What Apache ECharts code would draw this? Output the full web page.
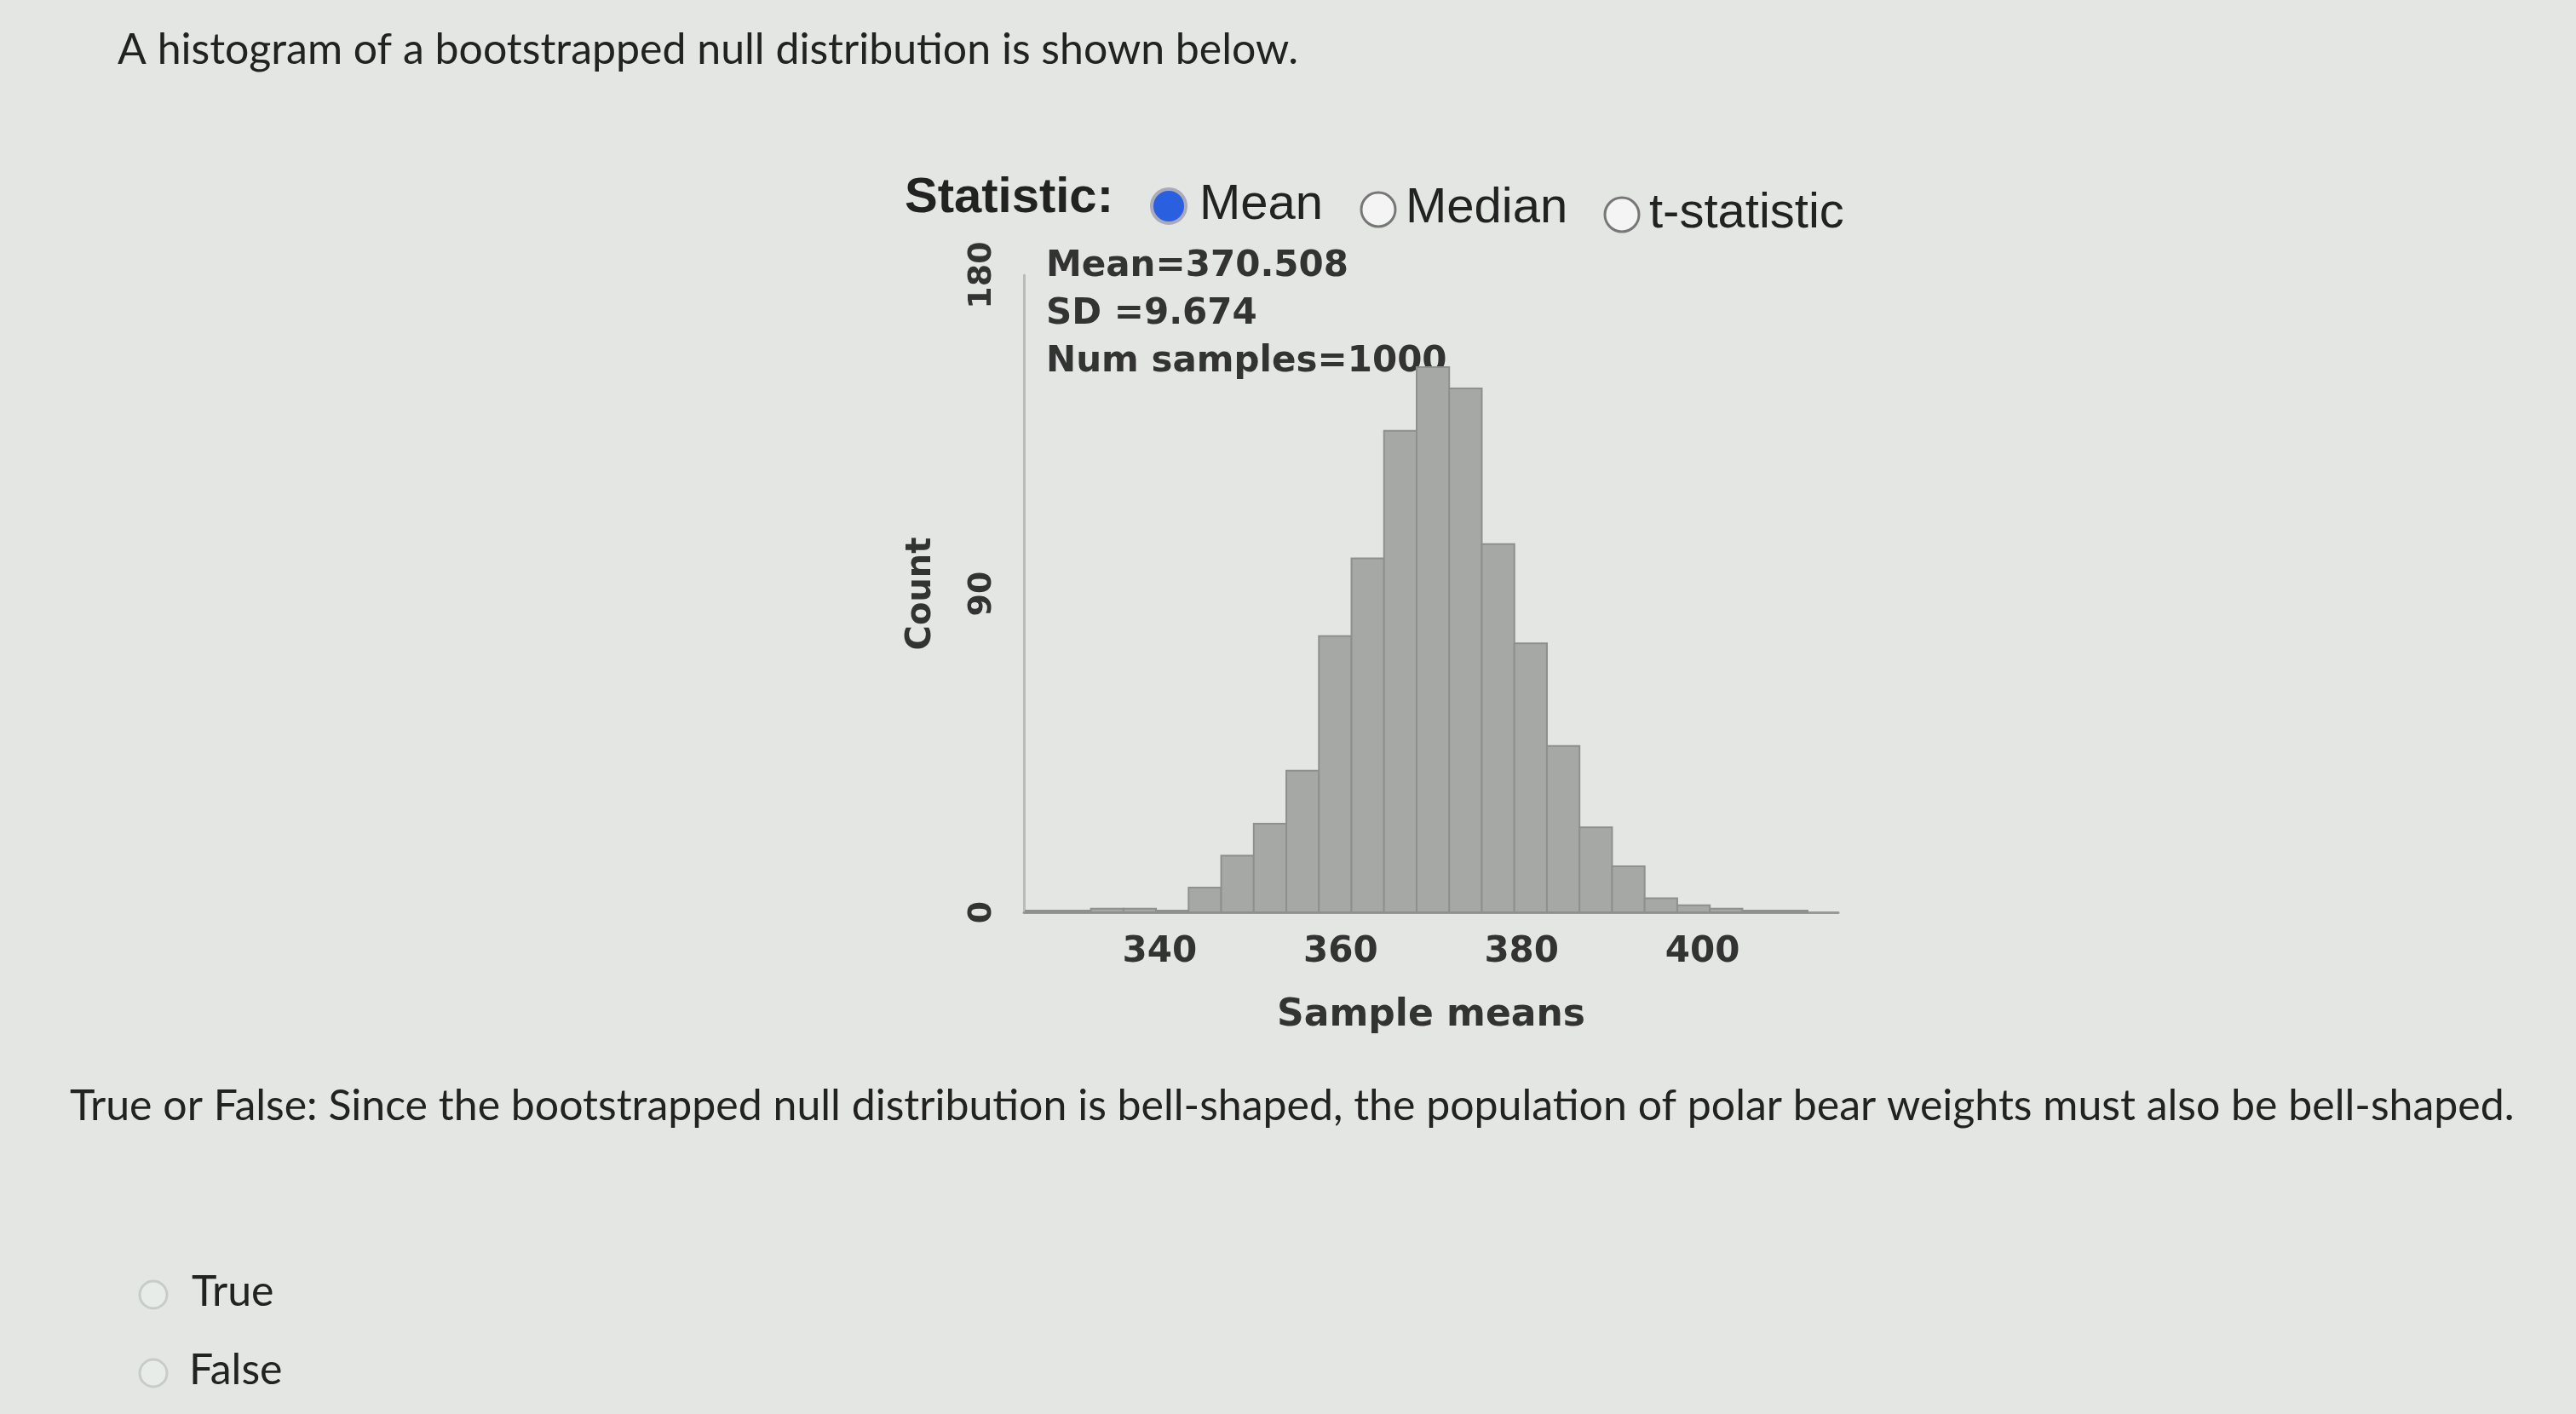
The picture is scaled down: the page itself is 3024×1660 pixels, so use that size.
<!DOCTYPE html>
<html>
<head>
<meta charset="utf-8">
<script src="https://cdn.jsdelivr.net/npm/echarts@6/dist/echarts.min.js"></script>
<style>
  html, body { margin: 0; padding: 0; background: #e4e6e3; }
  #chart { width: 3024px; height: 1660px; }
</style>
</head>
<body>
<div id="chart"></div>
<script>
'use strict';

// histogram bins (left edge, count), width of each bin
const binWidth = 3.6;
const binStarts = [325.2, 328.8, 332.4, 336.0, 339.6, 343.2, 346.8, 350.4, 354.0, 357.6, 361.2, 364.8,
    368.4, 372.0, 375.6, 379.2, 382.8, 386.4, 390.0, 393.6, 397.2, 400.8, 404.4, 408.0];
const counts = [0.5, 0.5, 1, 1, 0.5, 7, 16, 25, 40, 78, 100, 136, 154, 148, 104, 76, 47, 24, 13, 4, 2, 1, 0.5, 0.5];
const xTicks = [340, 360, 380, 400];
const yTicks = [0, 90, 180];

(function () {
    const chart = echarts.init(document.getElementById('chart'));
    const font = 'DejaVu Sans';
    const textFont = 'Lato';

    const options = {
        backgroundColor: '#e4e6e3',
        animation: false,
        grid: { left: 1202, top: 323, width: 956, height: 748 },
        xAxis: {
            type: 'value',
            min: 325,
            max: 415,
            interval: 20,
            name: 'Sample means',
            nameLocation: 'center',
            nameGap: 100,
            nameTextStyle: { fontFamily: font, fontSize: 44, fontWeight: 'bold', color: '#333' },
            axisLine: { lineStyle: { color: '#999', width: 3 } },
            axisTick: { show: false },
            splitLine: { show: false },
            axisLabel: {
                fontFamily: font, fontSize: 42, fontWeight: 'bold', color: '#333', margin: 26,
                customValues: xTicks
            }
        },
        yAxis: {
            type: 'value',
            min: 0,
            max: 180,
            interval: 90,
            name: 'Count',
            nameLocation: 'center',
            nameGap: 100,
            nameRotate: 90,
            nameTextStyle: { fontFamily: font, fontSize: 40, fontWeight: 'bold', color: '#333' },
            axisLine: { show: true, lineStyle: { color: '#bbb', width: 3 } },
            axisTick: { show: false },
            splitLine: { show: false },
            axisLabel: {
                fontFamily: font, fontSize: 38, fontWeight: 'bold', color: '#333', rotate: 90, margin: 30,
                customValues: yTicks
            }
        },
        series: [{
            type: 'custom',
            data: binStarts.map((s, i) => [s, counts[i]]),
            renderItem: function (params, api) {
                const p0 = api.coord([api.value(0), 0]);
                const p1 = api.coord([api.value(0) + binWidth, api.value(1)]);
                return {
                    type: 'rect',
                    shape: { x: p0[0], y: p1[1], width: p1[0] - p0[0], height: p0[1] - p1[1] },
                    style: { fill: '#a6a8a6', stroke: '#8e908e', lineWidth: 2 }
                };
            }
        }],
        graphic: [
            { type: 'text', left: 138, top: 34, style: { text: 'A histogram of a bootstrapped null distribution is shown below.', font: '50px ' + textFont, fill: '#222' } },
            { type: 'text', left: 1062, top: 204, style: { text: 'Statistic:', font: 'bold 58px Liberation Sans', fill: '#222' } },
            { type: 'circle', shape: { cx: 1372, cy: 242, r: 20 }, style: { fill: '#2a5fe0', stroke: '#aab', lineWidth: 4 } },
            { type: 'text', left: 1408, top: 212, style: { text: 'Mean', font: '58px Liberation Sans', fill: '#222' } },
            { type: 'circle', shape: { cx: 1618, cy: 246, r: 20 }, style: { fill: '#f4f4f4', stroke: '#777', lineWidth: 3 } },
            { type: 'text', left: 1650, top: 216, style: { text: 'Median', font: '58px Liberation Sans', fill: '#222' } },
            { type: 'circle', shape: { cx: 1904, cy: 252, r: 20 }, style: { fill: '#f4f4f4', stroke: '#777', lineWidth: 3 } },
            { type: 'text', left: 1936, top: 222, style: { text: 't-statistic', font: '58px Liberation Sans', fill: '#222' } },
            { type: 'text', left: 1228, top: 285, style: { text: 'Mean=370.508\nSD =9.674\nNum samples=1000', font: 'bold 42px DejaVu Sans', fill: '#333', lineHeight: 56 } },
            { type: 'text', left: 82, top: 1274, style: { text: 'True or False: Since the bootstrapped null distribution is bell-shaped, the population of polar bear weights must also be bell-shaped.', font: '50px ' + textFont, fill: '#222' } },
            { type: 'circle', shape: { cx: 180, cy: 1520, r: 16 }, style: { fill: '#e8ece8', stroke: '#c8ccc8', lineWidth: 3 } },
            { type: 'text', left: 225, top: 1492, style: { text: 'True', font: '50px ' + textFont, fill: '#222' } },
            { type: 'circle', shape: { cx: 180, cy: 1612, r: 16 }, style: { fill: '#e8ece8', stroke: '#c8ccc8', lineWidth: 3 } },
            { type: 'text', left: 222, top: 1584, style: { text: 'False', font: '50px ' + textFont, fill: '#222' } }
        ]
    };

    chart.setOption(options);
})();
</script>
</body>
</html>
